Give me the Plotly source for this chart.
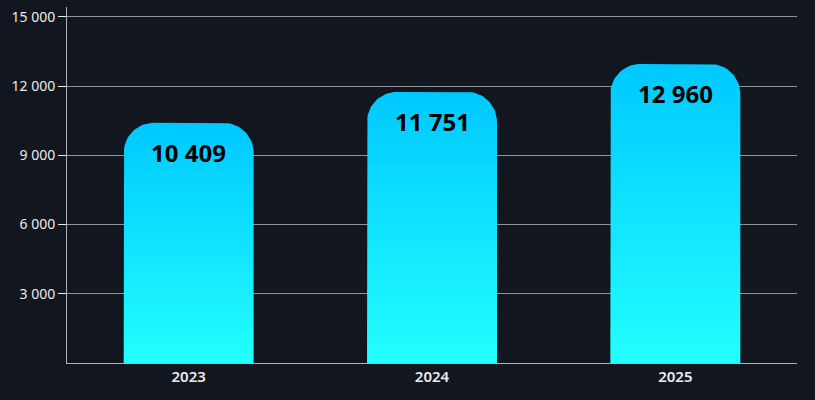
import numpy as np
import plotly.graph_objects as go

# données
years = ['2023', '2024', '2025']
values = [10409, 11751, 12960]
y_ticks = [3000, 6000, 9000, 12000, 15000]

bg = '#12171f'
top_color = '#00c8ff'
bottom_color = '#22ffff'

# géométrie des barres (en unités d'axe)
y_max = 15430
half_w = 0.267
rx = 0.123          # rayon horizontal (~30 px)
ry = 1300           # rayon vertical (~30 px)


def rounded_bar(xc, v):
    # contour d'une barre aux coins supérieurs arrondis
    t = np.linspace(0, np.pi / 2, 20)
    left = xc - half_w
    right = xc + half_w
    xs = [left, left]
    ys = [0, v - ry]
    xs += list(left + rx - rx * np.cos(t))
    ys += list(v - ry + ry * np.sin(t))
    xs += list(right - rx + rx * np.sin(t))
    ys += list(v - ry + ry * np.cos(t))
    xs += [right, left]
    ys += [0, 0]
    return xs, ys


fig = go.Figure()

for i, v in enumerate(values):
    xs, ys = rounded_bar(i, v)
    fig.add_trace(go.Scatter(
        x=xs, y=ys, mode='lines', fill='toself',
        line=dict(width=0, color=top_color),
        fillgradient=dict(type='vertical',
                          colorscale=[[0, bottom_color], [1, top_color]]),
        hoverinfo='skip', showlegend=False
    ))
    fig.add_annotation(
        x=i, y=v, text=f'{v:,}'.replace(',', ' '),
        showarrow=False, yanchor='top', yshift=-11,
        font=dict(family='Noto Sans', size=24, color='#000000', weight='bold')
    )

fig.update_layout(
    width=815, height=400,
    margin=dict(l=67, r=18, t=7, b=37),
    paper_bgcolor=bg, plot_bgcolor=bg,
    font=dict(family='Noto Sans', color='#ececec'),
    separators='. ',
    showlegend=False
)

fig.update_xaxes(
    range=[-0.5, 2.5], tickvals=[0, 1, 2], ticktext=years,
    showgrid=False, zeroline=False,
    showline=True, linecolor='#b0b0b0', linewidth=1,
    tickfont=dict(size=15, color='#ececec', weight=600),
    ticks='', fixedrange=True
)

fig.update_yaxes(
    range=[0, y_max], tickvals=y_ticks,
    ticktext=[f'{t:,}'.replace(',', ' ') for t in y_ticks],
    showgrid=True, gridcolor='#8f9296', gridwidth=1,
    zeroline=False,
    showline=True, linecolor='#b0b0b0', linewidth=1,
    ticks='outside', ticklen=8, tickcolor='#ececec',
    tickfont=dict(size=14, color='#ececec'),
    fixedrange=True
)

# pas de marge blanche autour de la figure, pas de barre d'outils
fig.write_html('out.html',
               config={'displayModeBar': False},
               post_script="document.body.style.margin='0';"
                           "document.body.style.background='#12171f';")
